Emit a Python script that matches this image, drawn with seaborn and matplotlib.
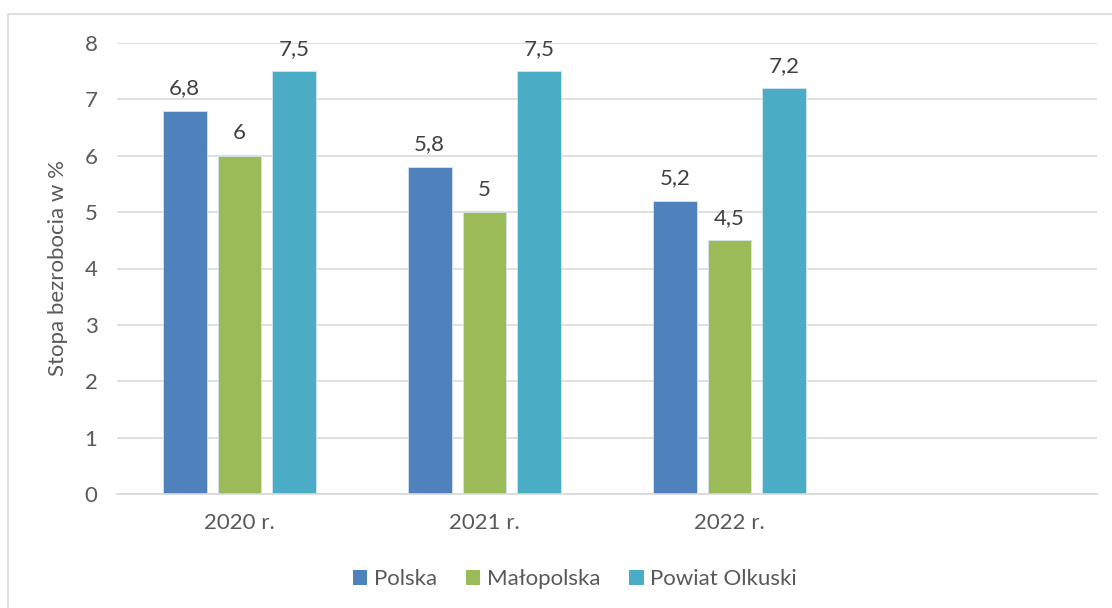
import matplotlib
matplotlib.use("Agg")
import matplotlib.pyplot as plt
import seaborn as sns
import pandas as pd
from matplotlib.lines import Line2D
from matplotlib.patches import Patch

years = ["2020 r.", "2021 r.", "2022 r."]
series = ["Polska", "Małopolska", "Powiat Olkuski"]
polska = [6.8, 5.8, 5.2]
malopolska = [6.0, 5.0, 4.5]
powiat = [7.5, 7.5, 7.2]
colors = ["#4F81BD", "#9BBB59", "#4BACC6"]

rows = []
for name, vals in zip(series, [polska, malopolska, powiat]):
    for y, v in zip(years, vals):
        rows.append({"rok": y, "seria": name, "wartosc": v})
df = pd.DataFrame(rows)

sns.set_theme(style="white")
plt.rcParams["font.family"] = ["Lato", "DejaVu Sans"]

W, H = 1112, 608
fig = plt.figure(figsize=(W / 100, H / 100), dpi=100)
ax = fig.add_axes([117 / W, 1 - 494 / H, (1097 - 117) / W, (494 - 43) / H])

sns.barplot(data=df, x="rok", y="wartosc", hue="seria", order=years,
            hue_order=series, palette=colors, width=0.67, gap=0.2,
            saturation=1, ax=ax, legend=False, edgecolor="#D6E4F0", linewidth=0.6)

for cont in ax.containers:
    labels = [f"{v:g}".replace(".", ",") for v in cont.datavalues]
    ax.bar_label(cont, labels=labels, padding=9, fontsize=16, color="#404040")

ax.set_xlim(-0.5, 3.5)
ax.set_ylim(0, 8)
ax.set_yticks(range(0, 9))
ax.yaxis.grid(True, color="#D9D9D9", linewidth=1.2)
ax.set_axisbelow(True)
for s in ["top", "right", "left"]:
    ax.spines[s].set_visible(False)
ax.spines["bottom"].set_color("#D9D9D9")
ax.spines["bottom"].set_linewidth(1.2)
ax.tick_params(axis="both", length=0, labelsize=16, labelcolor="#595959")
ax.tick_params(axis="y", pad=14)
ax.tick_params(axis="x", pad=14)
ax.set_xlabel("")
ax.set_ylabel("Stopa bezrobocia w %", fontsize=16, color="#595959", labelpad=12)

handles = [Patch(facecolor=c, edgecolor="none") for c in colors]
fig.legend(handles, series, loc="center", bbox_to_anchor=(575 / W, 1 - 579 / H),
           ncol=3, frameon=False, fontsize=16, labelcolor="#595959",
           handlelength=0.65, handleheight=0.65, handletextpad=0.3, columnspacing=1.3)

# chart border
fig.add_artist(Line2D([8 / W, 1], [1 - 14 / H, 1 - 14 / H], color="#D9D9D9", lw=1.2))
fig.add_artist(Line2D([8 / W, 8 / W], [0, 1 - 14 / H], color="#D9D9D9", lw=1.2))

fig.savefig("out.png", dpi=100)
